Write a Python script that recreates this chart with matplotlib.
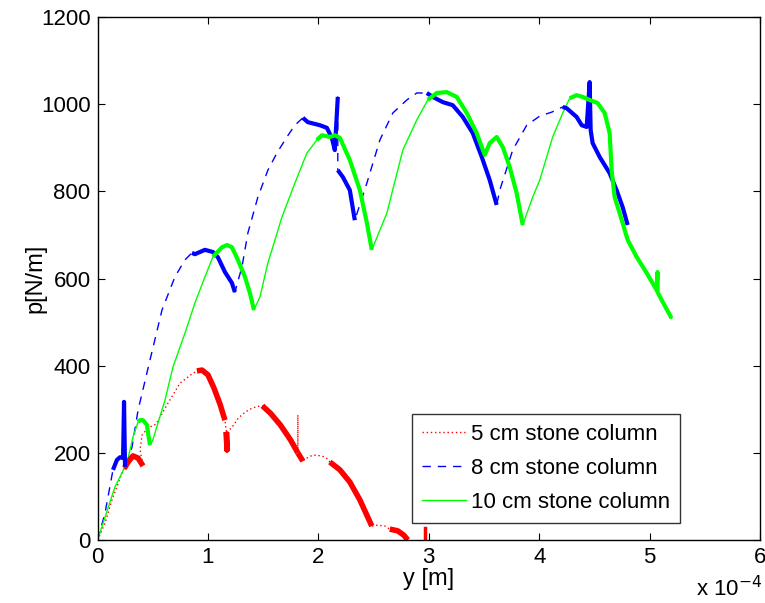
import matplotlib
matplotlib.use('Agg')
import matplotlib.pyplot as plt

plt.rcParams['font.family'] = ['Liberation Sans', 'DejaVu Sans']

# y in units of 1e-4 m, p in N/m ; *_dense = 1 where the segment starting at that point is densely sampled
red_x = [0, 0.068, 0.131, 0.204, 0.240, 0.249, 0.276, 0.321, 0.367, 0.412, 0.385, 0.403, 0.457, 0.529,
         0.638, 0.747, 0.855, 0.900, 0.946, 1.000, 1.054, 1.109, 1.154, 1.167, 1.172, 1.167, 1.213, 1.276,
         1.339, 1.403, 1.475, 1.493, 1.566, 1.656, 1.747, 1.814, 1.814, 1.814, 1.860, 1.878, 1.950, 2.032,
         2.086, 2.104, 2.195, 2.285, 2.376, 2.439, 2.484, 2.538, 2.602, 2.647, 2.719, 2.774, 2.810]
red_y = [0, 39, 92, 142, 165, 167, 179, 193, 188, 170, 207, 241, 257, 266,
         314, 360, 381, 388, 390, 379, 349, 312, 275, 248, 207, 248, 257, 280,
         294, 303, 308, 308, 291, 264, 230, 200, 287, 200, 181, 186, 195, 193,
         186, 179, 161, 133, 92, 57, 32, 34, 32, 25, 21, 11, 0]
red_dense = [0, 0, 0, 0, 1, 1, 1, 1, 1, 0, 0, 0, 0, 0,
             0, 0, 0, 1, 1, 1, 1, 1, 0, 1, 1, 0, 0, 0,
             0, 0, 0, 1, 1, 1, 1, 0, 0, 1, 0, 0, 0, 0,
             0, 1, 1, 1, 1, 1, 0, 0, 0, 1, 1, 1, 0]
red_spike_x = [2.964, 2.964]
red_spike_y = [0, 28]

blue_x = [0, 0.068, 0.140, 0.176, 0.204, 0.231, 0.240, 0.249, 0.267, 0.312, 0.367, 0.475, 0.584, 0.701,
          0.792, 0.855, 0.882, 0.973, 1.045, 1.090, 1.154, 1.217, 1.244, 1.308, 1.362, 1.452, 1.543,
          1.624, 1.715, 1.787, 1.860, 1.905, 2.014, 2.077, 2.122, 2.149, 2.176, 2.176, 2.222, 2.285,
          2.330, 2.439, 2.557, 2.674, 2.801, 2.891, 2.982, 3.036, 3.127, 3.217, 3.308, 3.398, 3.480,
          3.552, 3.615, 3.643, 3.760, 3.887, 4.005, 4.113, 4.213, 4.249, 4.339, 4.385, 4.430, 4.457,
          4.466, 4.484, 4.548, 4.638, 4.701, 4.756, 4.801]
blue_y = [0, 62, 161, 184, 190, 188, 317, 168, 177, 213, 298, 413, 528, 604,
          643, 659, 656, 666, 661, 649, 615, 590, 569, 627, 705, 787, 849,
          888, 925, 952, 969, 959, 952, 946, 923, 895, 1017, 849, 833, 803,
          734, 819, 918, 980, 1010, 1026, 1026, 1017, 1005, 998, 971, 934, 879,
          826, 769, 803, 895, 952, 973, 982, 994, 991, 971, 952, 948, 1051,
          941, 911, 879, 842, 803, 764, 723]
blue_dense = [0, 0, 1, 1, 1, 1, 1, 0, 0, 0, 0, 0, 0, 0,
              0, 1, 1, 1, 1, 1, 1, 1, 0, 0, 0, 0, 0,
              0, 0, 0, 1, 1, 1, 1, 1, 1, 0, 1, 1, 1,
              0, 0, 0, 0, 0, 0, 1, 1, 1, 1, 1, 1, 1,
              1, 0, 0, 0, 0, 0, 0, 1, 1, 1, 1, 1, 1,
              1, 1, 1, 1, 1, 1, 0]

green_x = [0, 0.158, 0.267, 0.321, 0.367, 0.385, 0.412, 0.448, 0.457, 0.475, 0.502, 0.548, 0.611, 0.683,
           0.792, 0.882, 0.973, 1.045, 1.127, 1.172, 1.217, 1.271, 1.335, 1.380, 1.416, 1.471, 1.543,
           1.670, 1.787, 1.896, 1.986, 2.032, 2.104, 2.149, 2.195, 2.285, 2.376, 2.439, 2.484, 2.557,
           2.620, 2.765, 2.891, 2.991, 3.072, 3.163, 3.253, 3.344, 3.434, 3.480, 3.507, 3.552, 3.615,
           3.670, 3.733, 3.796, 3.851, 3.941, 4.005, 4.122, 4.213, 4.276, 4.339, 4.394, 4.457, 4.529,
           4.593, 4.638, 4.656, 4.683, 4.729, 4.801, 4.882, 4.973, 5.063, 5.072, 5.072, 5.109, 5.199]
green_y = [0, 122, 177, 236, 271, 275, 275, 264, 246, 218, 230, 269, 321, 397,
           475, 544, 604, 650, 672, 677, 672, 643, 604, 567, 528, 558, 636,
           741, 819, 888, 918, 929, 925, 929, 923, 872, 803, 728, 666, 711,
           750, 895, 964, 1010, 1026, 1028, 1017, 980, 934, 902, 884, 911, 925,
           902, 856, 796, 723, 787, 826, 925, 980, 1014, 1021, 1017, 1010, 1003,
           980, 934, 849, 787, 750, 689, 650, 613, 574, 615, 569, 551, 509]
green_dense = [0, 0, 0, 0, 1, 1, 1, 1, 1, 0, 0, 0, 0, 0,
               0, 0, 0, 1, 1, 1, 1, 1, 1, 1, 0, 0, 0,
               0, 0, 0, 1, 1, 1, 1, 1, 1, 1, 1, 0, 0,
               0, 0, 0, 1, 1, 1, 1, 1, 1, 1, 1, 1, 1,
               1, 1, 1, 0, 0, 0, 0, 0, 1, 1, 1, 1, 1,
               1, 1, 1, 1, 1, 1, 1, 1, 1, 1, 1, 1, 0]

labels = ['5 cm stone column', '8 cm stone column', '10 cm stone column']


def draw_dense(ax, xs, ys, flags, color, lw):
    # overlay thick pieces where the measured points are packed together
    i = 0
    while i < len(flags):
        if flags[i]:
            j = i
            while j < len(flags) and flags[j]:
                j += 1
            ax.plot(xs[i:j + 1], ys[i:j + 1], color=color, lw=lw, solid_capstyle='butt')
            i = j
        else:
            i += 1


fig = plt.figure(figsize=(7.65, 6.03), dpi=100)
ax = fig.add_axes([0.1275, 0.1045, 0.866, 0.867])

ax.plot(red_x, red_y, color='#ff0000', lw=1.0, linestyle=(0, (1, 2)), label=labels[0])
ax.plot(blue_x, blue_y, color='#0000ff', lw=1.0, linestyle=(0, (6, 5)), label=labels[1])
ax.plot(green_x, green_y, color='#00ff00', lw=1.0, linestyle='-', label=labels[2])

draw_dense(ax, red_x, red_y, red_dense, '#ff0000', 4.0)
ax.plot(red_spike_x, red_spike_y, color='#ff0000', lw=2.5)
draw_dense(ax, blue_x, blue_y, blue_dense, '#0000ff', 3.0)
draw_dense(ax, green_x, green_y, green_dense, '#00ff00', 3.0)

ax.set_xlim(0, 6)
ax.set_ylim(0, 1200)
ax.set_xticks([0, 1, 2, 3, 4, 5, 6])
ax.set_yticks([0, 200, 400, 600, 800, 1000, 1200])
ax.tick_params(direction='in', length=5, labelsize=16, top=True, right=True, pad=5)
for s in ax.spines.values():
    s.set_linewidth(1.0)

ax.set_xlabel('y [m]', fontsize=17, labelpad=0)
ax.set_ylabel('p[N/m]', fontsize=17)
ax.yaxis.set_label_coords(-0.077, 0.5)
ax.text(1.003, -0.107, r'x 10$^{-4}$', transform=ax.transAxes, ha='right', va='baseline', fontsize=16)

leg = ax.legend(loc='lower right', bbox_to_anchor=(0.879, 0.032), fontsize=16, frameon=True,
                fancybox=False, edgecolor='black', handlelength=2.0, borderpad=0.45,
                labelspacing=0.6, handletextpad=0.2, borderaxespad=0)
leg.get_frame().set_linewidth(1.0)

fig.savefig('out.png', dpi=100)
